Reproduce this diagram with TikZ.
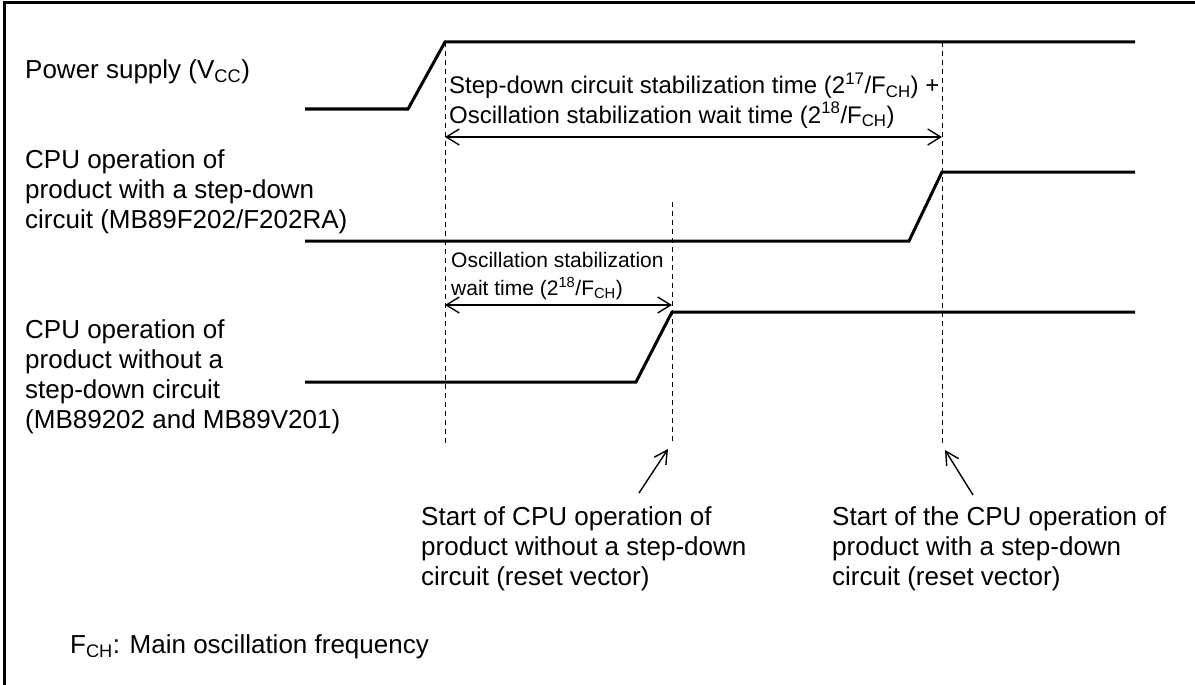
\documentclass[tikz,border=0pt]{standalone}
\usepackage{fontspec}
\setmainfont{Liberation Sans}
\usetikzlibrary{arrows.meta}

\begin{document}
\begin{tikzpicture}[x=1pt,y=-1pt,
  frame/.style={line width=3pt},
  wave/.style={line width=3pt, line join=miter},
  guide/.style={line width=1pt, dash pattern=on 5pt off 4pt},
  span/.style={line width=1.4pt,
    {Straight Barb[length=13pt,width=16pt]}-{Straight Barb[length=13pt,width=16pt]}},
  callout/.style={line width=1.4pt, -{Straight Barb[length=13pt,width=14pt]}},
  lbl/.style={anchor=base west, inner sep=0pt, align=left,
    font=\fontsize{26}{30}\selectfont},
  toplbl/.style={lbl, font=\fontsize{24}{29}\selectfont},
  smalllbl/.style={lbl, font=\fontsize{21}{28}\selectfont}]

\useasboundingbox (0,0) rectangle (1195,685);

% border on the left and top edges
\draw[frame] (4.5,685) -- (4.5,3) -- (1195,3);

% signal names (a multi-line node sits on the baseline of its last line)
\node[lbl] (vcc) at (25,78) {Power supply (V\textsubscript{CC})};
\node[lbl] (withsd) at (25,228) {CPU operation of\\product with a step-down\\circuit (MB89F202/F202RA)};
\node[lbl] (nosd) at (25,428) {CPU operation of\\product without a\\step-down circuit\\(MB89202 and MB89V201)};

% waveforms
\draw[wave] (305,109) -- (408,109) -- (445,42) -- (1135,42);
\draw[wave] (305,241) -- (909,241) -- (942,172) -- (1135,172);
\draw[wave] (305,382) -- (636,382) -- (672,312) -- (1135,312);

% timing guides
\coordinate (gA) at (445,443);
\coordinate (gB) at (942,443);
\coordinate (gC) at (672,443);
\draw[guide] (445,42) -- (gA);
\draw[guide] (942,42) -- (gB);
\draw[guide] (672,202) -- (gC);

% stabilization spans
\coordinate (sA1) at (445,137);
\coordinate (sB1) at (942,137);
\draw[span] (sA1) -- (sB1);
\node[toplbl] (longwait) at (449,123) {Step-down circuit stabilization time (2\textsuperscript{17}/F\textsubscript{CH}) +\\Oscillation stabilization wait time (2\textsuperscript{18}/F\textsubscript{CH})};

\coordinate (sA2) at (445,305);
\coordinate (sC2) at (672,305);
\draw[span] (sA2) -- (sC2);
\node[smalllbl] (shortwait) at (451,295) {Oscillation stabilization\\wait time (2\textsuperscript{18}/F\textsubscript{CH})};

% reset vector notes
\node[lbl] (startno) at (421,585) {Start of CPU operation of\\product without a step-down\\circuit (reset vector)};
\node[lbl] (startwith) at (832,585) {Start of the CPU operation of\\product with a step-down\\circuit (reset vector)};
\coordinate (tailno) at (639,493);
\coordinate (tailwith) at (973,495);
\draw[callout] (tailno) -- ([shift={(-4,6)}]gC);
\draw[callout] (tailwith) -- ([shift={(3,7)}]gB);

% footnote
\node[lbl] (fch) at (70,653) {F\textsubscript{CH}: Main oscillation frequency};
\end{tikzpicture}
\end{document}
